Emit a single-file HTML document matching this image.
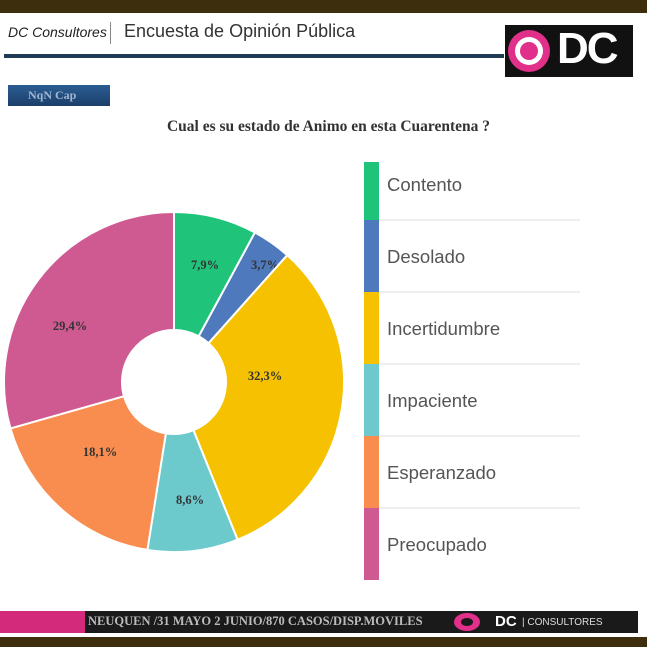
<!DOCTYPE html><html><head><meta charset="utf-8"><style>
body{margin:0;width:647px;height:647px;background:#fff;position:relative;overflow:hidden;font-family:"Liberation Sans",sans-serif}
.a{position:absolute}
</style></head><body>
<div class="a" style="left:0;top:0;width:647px;height:13px;background:#3d2f0e"></div>
<div class="a" style="left:8px;top:24px;font-size:14px;font-style:italic;color:#222">DC Consultores</div>
<div class="a" style="left:110px;top:22px;width:1px;height:22px;background:#888"></div>
<div class="a" style="left:124px;top:21px;font-size:18px;color:#333">Encuesta de Opinión Pública</div>
<div class="a" style="left:4px;top:54px;width:500px;height:4px;background:#1f3a55"></div>
<div class="a" style="left:505px;top:25px;width:128px;height:52px;background:#111"></div>
<div class="a" style="left:508px;top:30px;width:42px;height:42px;border-radius:50%;background:#e0308a"></div>
<div class="a" style="left:515px;top:37px;width:28px;height:28px;border-radius:50%;background:#fff"></div>
<div class="a" style="left:520px;top:42px;width:18px;height:18px;border-radius:50%;background:#e0308a"></div>
<div class="a" style="left:557px;top:24px;font-size:44px;font-weight:bold;color:#fff;letter-spacing:-2px">DC</div>
<div class="a" style="left:8px;top:85px;width:102px;height:21px;background:linear-gradient(#2a5d93,#1c3f6a);color:#9fb7d3;font-family:'Liberation Serif',serif;font-size:12px;font-weight:bold;line-height:21px;padding-left:20px;box-sizing:border-box">NqN Cap</div>
<div class="a" style="left:0;top:118px;width:647px;text-align:center;font-family:'Liberation Serif',serif;font-weight:bold;font-size:15.5px;color:#333;padding-left:5px">Cual es su estado de Animo en esta Cuarentena ?</div>
<svg class="a" style="left:0;top:0" width="647" height="647" id="s"></svg>
<div class="a" style="left:0;top:611px;width:85px;height:22px;background:#d42a7c"></div>
<div class="a" style="left:85px;top:611px;width:553px;height:22px;background:#1a1a1a"></div>
<div class="a" style="left:88px;top:614px;font-family:'Liberation Serif',serif;font-size:12.5px;font-weight:bold;color:#bbb">NEUQUEN /31 MAYO 2 JUNIO/870 CASOS/DISP.MOVILES</div>
<div class="a" style="left:454px;top:613px;width:26px;height:18px;border-radius:50%;background:#e0308a"></div>
<div class="a" style="left:461px;top:618px;width:12px;height:8px;border-radius:50%;background:#1a1a1a"></div>
<div class="a" style="left:495px;top:613px;font-size:15px;font-weight:bold;color:#fff">DC</div>
<div class="a" style="left:522px;top:617px;font-size:10px;color:#ddd">| CONSULTORES</div>
<div class="a" style="left:0;top:637px;width:647px;height:10px;background:#3d2f0e"></div>
<script>
var d=[[7.9,'#1fc47a','Contento','7,9%',205,265],[3.7,'#4f79bd','Desolado','3,7%',265,265],[32.3,'#f6c100','Incertidumbre','32,3%',265,376],[8.6,'#6dcacc','Impaciente','8,6%',190,500],[18.1,'#f98d4f','Esperanzado','18,1%',100,452],[29.4,'#cf5a91','Preocupado','29,4%',70,326]];
var cx=174,cy=382,R=170,r=52,a=0,h='';
function p(an,rr){return [cx+rr*Math.sin(an),cy-rr*Math.cos(an)];}
d.forEach(function(e,i){var a2=a+e[0]/100*2*Math.PI,l=(a2-a)>Math.PI?1:0;
var A=p(a,R),B=p(a2,R),C=p(a2,r),D=p(a,r);
h+='<path d="M'+A+'A'+R+','+R+' 0 '+l+' 1 '+B+'L'+C+'A'+r+','+r+' 0 '+l+' 0 '+D+'Z" fill="'+e[1]+'" stroke="#fff" stroke-width="2"/>';
h+='<text x="'+e[4]+'" y="'+(e[5]+4)+'" text-anchor="middle" font-family="Liberation Serif,serif" font-weight="bold" font-size="12.5" fill="#333">'+e[3]+'</text>';
var y0=i==0?162:148+72*i,y1=220+72*i;
h+='<rect x="364" y="'+y0+'" width="15" height="'+(y1-y0)+'" fill="'+e[1]+'"/>';
if(i<5)h+='<line x1="379" y1="'+y1+'" x2="580" y2="'+y1+'" stroke="#ddd"/>';
h+='<text x="387" y="'+(y1-29)+'" font-family="Liberation Sans,sans-serif" font-size="18.5" fill="#555">'+e[2]+'</text>';
a=a2;});
document.getElementById('s').innerHTML=h;
</script>
</body></html>
